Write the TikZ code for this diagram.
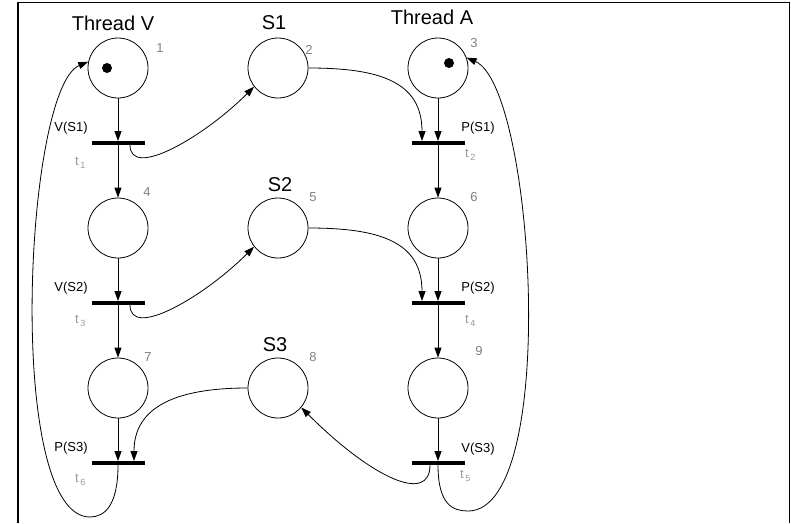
\documentclass[tikz,border=0pt]{standalone}
\usepackage{fontspec}
\setmainfont{Liberation Sans}
\usetikzlibrary{arrows.meta, positioning, calc}

\definecolor{numgray}{gray}{0.5}
\definecolor{tgray}{gray}{0.6}

\newcommand{\tname}[1]{t\kern1.5pt\raisebox{-3pt}{\fontsize{9}{9}\selectfont #1}}

\begin{document}
\begin{tikzpicture}[x=1pt, y=-1pt,
    place/.style={draw, circle, line width=0.8pt, minimum size=60pt, inner sep=0pt},
    trans/.style={fill=black, minimum width=53pt, minimum height=3.5pt, inner sep=0pt},
    flow/.style={line width=0.8pt, -{Triangle[length=10pt, width=7pt]}},
    head/.style={font=\fontsize{20}{24}\selectfont},
    oplbl/.style={font=\fontsize{13}{15}\selectfont},
    num/.style={text=numgray, font=\fontsize{13}{15}\selectfont},
    tlbl/.style={text=tgray, font=\fontsize{13}{15}\selectfont, anchor=base west, inner sep=0pt}]
    \useasboundingbox (0,0) rectangle (791,523);
    \draw[line width=1.5pt] (18,523) -- (18,2.5) -- (789.5,2.5) -- (789.5,523);

    % places
    \node[place] (p1) at (118,68) {};
    \node[place] (p2) at (278,68) {};
    \node[place] (p3) at (438,68) {};
    \node[place] (p4) at (118,228) {};
    \node[place] (p5) at (278,228) {};
    \node[place] (p6) at (438,228) {};
    \node[place] (p7) at (118,388) {};
    \node[place] (p8) at (278,388) {};
    \node[place] (p9) at (438,388) {};
    \fill (107,68) circle (5pt);
    \fill (449,63) circle (5pt);

    % transitions
    \node[trans] (t1) at (118,143) {};
    \node[trans] (t2) at (438,143) {};
    \node[trans] (t3) at (118,303) {};
    \node[trans] (t4) at (438,303) {};
    \node[trans] (t6) at (118,463) {};
    \node[trans] (t5) at (438,463) {};

    \node[head] (lblV) at (113,23) {Thread V};
    \node[head] (lblS1) at (274,23) {S1};
    \node[head] (lblA) at (432,17) {Thread A};
    \node[head] (lblS2) at (280,185) {S2};
    \node[head] (lblS3) at (275,345) {S3};

    \node[num] (n1) at (160,48) {1};
    \node[num] (n2) at (309,50) {2};
    \node[num] (n3) at (474,43) {3};
    \node[num] (n4) at (147,192) {4};
    \node[num] (n5) at (313,197) {5};
    \node[num] (n6) at (474,197) {6};
    \node[num] (n7) at (148,357) {7};
    \node[num] (n8) at (313,357) {8};
    \node[num] (n9) at (479,351) {9};

    \node[oplbl] (o1) at (71,128) {V(S1)};
    \node[oplbl] (o2) at (478,128) {P(S1)};
    \node[oplbl] (o3) at (71,288) {V(S2)};
    \node[oplbl] (o4) at (478,288) {P(S2)};
    \node[oplbl] (o6) at (71,448) {P(S3)};
    \node[oplbl] (o5) at (478,449) {V(S3)};

    \node[tlbl] (l1) at (75,165) {\tname{1}};
    \node[tlbl] (l2) at (465,157) {\tname{2}};
    \node[tlbl] (l3) at (75,323) {\tname{3}};
    \node[tlbl] (l4) at (465,323) {\tname{4}};
    \node[tlbl] (l6) at (75,482) {\tname{6}};
    \node[tlbl] (l5) at (460,478) {\tname{5}};

    % arcs
    \foreach \a/\b in {p1/t1, t1/p4, p4/t3, t3/p7, p7/t6, p3/t2, t2/p6, p6/t4, t4/p9, p9/t5}
        \draw[flow] (\a) -- (\b);

    \draw[flow] ([xshift=12pt]t1.south) .. controls +(0,35) and +(-50,50) .. (p2.218);
    \draw[flow] ([xshift=12pt]t3.south) .. controls +(0,35) and +(-50,50) .. (p5.218);
    \draw[flow] (p2.east) .. controls +(70,0) and +(0,-60) .. ([xshift=-16pt]t2.north);
    \draw[flow] (p5.east) .. controls +(70,0) and +(0,-60) .. ([xshift=-16pt]t4.north);
    \draw[flow] (p8.west) .. controls +(-70,0) and +(0,-55) .. ([xshift=16pt]t6.north);
    \draw[flow] ([xshift=-8pt]t5.south) .. controls +(0,40) and +(70,70) .. (p8.-40);

    \coordinate (lowV) at (90,517);
    \coordinate (lowA) at (468,511);
    \draw[flow] (t6.south) .. controls +(0,40) and +(15,0) .. (lowV)
        .. controls +(-85,0) and +(-64,27) .. (p1.168);
    \draw[flow] (t5.south) .. controls +(0,40) and +(-15,0) .. (lowA)
        .. controls +(92,0) and +(68,30) .. (p3.20);
\end{tikzpicture}
\end{document}
